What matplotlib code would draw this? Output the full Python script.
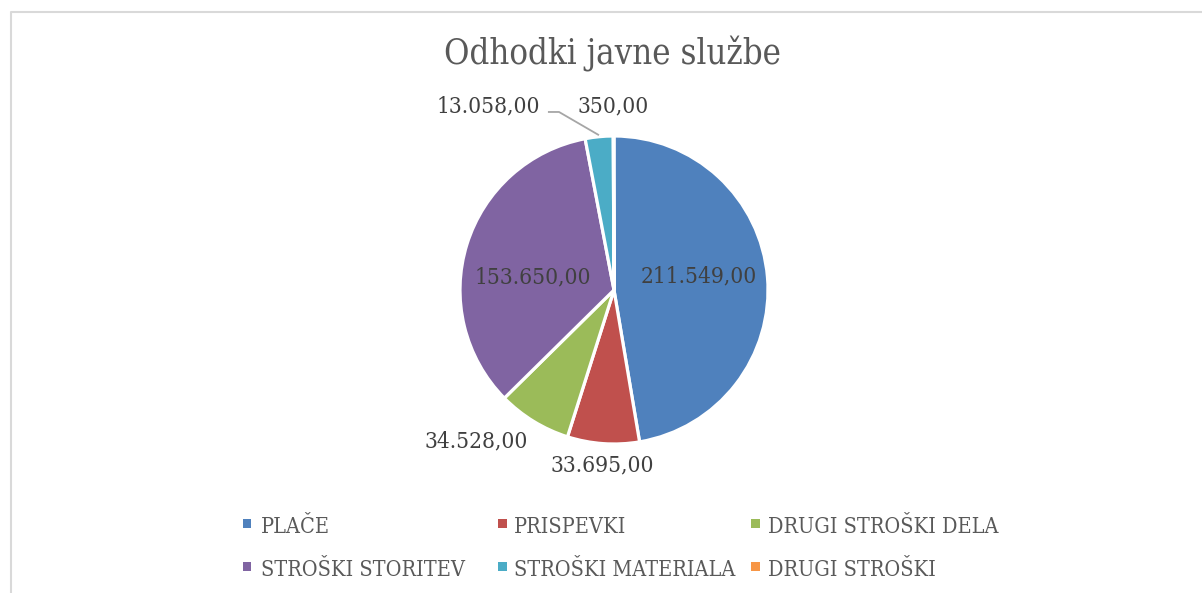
import numpy as np
import matplotlib
matplotlib.use("Agg")
import matplotlib.pyplot as plt
from matplotlib.patches import Rectangle
from matplotlib.lines import Line2D
from matplotlib import font_manager as fm

# ---- data ----
categories = ["PLAČE", "PRISPEVKI", "DRUGI STROŠKI DELA", "STROŠKI STORITEV",
              "STROŠKI MATERIALA", "DRUGI STROŠKI"]
values = [211549, 33695, 34528, 153650, 13058, 350]
value_labels = ["211.549,00", "33.695,00", "34.528,00", "153.650,00", "13.058,00", "350,00"]
colors = ["#4F81BD", "#C0504D", "#9BBB59", "#8064A2", "#4BACC6", "#F79646"]
title = "Odhodki javne službe"

W, H = 1202, 593
fig = plt.figure(figsize=(W / 100, H / 100), dpi=100)
fig.patch.set_facecolor("white")

# check whether a condensed DejaVu Serif is installed
cond = any(("DejaVu Serif" == f.name and f.stretch == "condensed") for f in fm.fontManager.ttflist)
stretch = "condensed" if cond else "normal"
k = 1.1 if cond else 1.0

def fx(px):
    return px / W

def fy(py):
    return 1 - py / H

fig.add_artist(Line2D([fx(11), fx(11), 1.0], [0.0, fy(11.5), fy(11.5)],
                      transform=fig.transFigure, color="#D9D9D9", lw=1.5))

cx, cy, R = 614, 290, 154
ax = fig.add_axes([fx(cx - R), fy(cy + R), 2 * R / W, 2 * R / H])
wedges, _ = ax.pie(values, colors=colors, startangle=90, counterclock=False,
                   radius=1.0, wedgeprops=dict(edgecolor="white", linewidth=2.3))
ax.set_xlim(-1, 1)
ax.set_ylim(-1, 1)
ax.set_aspect("equal")
ax.axis("off")

serif = "DejaVu Serif"
lab_color = "#404040"
fs_lab = 14.8 * k
fs_leg = 14.1 * k
fs_title = 22.6 * k

total = float(sum(values))
cum = np.cumsum([0] + values[:-1])
mid = [np.deg2rad(90 - 360 * (c + v / 2) / total) for c, v in zip(cum, values)]

placement = [
    (0.55, "center", "center", 0.0, 0.04),
    (1.07, "center", "top", 0.0, 0.0),
    (1.07, "right", "top", 0.0, 0.0),
    (0.55, "center", "center", 0.0, -0.08),
    None,
    (1.195, "center", "center", 0.0, 0.0),
]
for i, (txt, ang) in enumerate(zip(value_labels, mid)):
    p = placement[i]
    if p is None:
        continue
    r, ha, va, dx, dy = p
    ax.text(r * np.cos(ang) + dx, r * np.sin(ang) + dy, txt, ha=ha, va=va,
            fontsize=fs_lab, family=serif, fontstretch=stretch,
            color=lab_color, clip_on=False)

i = 4
ang = mid[i]
ex, ey = 1.01 * np.cos(ang), 1.01 * np.sin(ang)
ax.plot([-0.429, -0.357, ex], [1.156, 1.156, ey], color="#A6A6A6", lw=1.3,
        clip_on=False, solid_capstyle="butt")
ax.text(-0.481, 1.195, value_labels[i], ha="right", va="center",
        fontsize=fs_lab, family=serif, fontstretch=stretch,
        color=lab_color, clip_on=False)

fig.text(fx(612.5), fy(64), title, ha="center", va="baseline",
         fontsize=fs_title, family=serif, fontstretch=stretch, color="#595959")

col_marker_x = [243, 498, 751]
col_text_x = [261, 514, 768]
row_base_y = [533, 576]
ms = 8.5
for n, (name, col) in enumerate(zip(categories, colors)):
    row, c = divmod(n, 3)
    by = row_base_y[row]
    fig.add_artist(Rectangle((fx(col_marker_x[c]), fy(by - 5.5)), ms / W, ms / H,
                             transform=fig.transFigure, facecolor=col,
                             edgecolor="none"))
    fig.text(fx(col_text_x[c]), fy(by), name, ha="left", va="baseline",
             fontsize=fs_leg, family=serif, fontstretch=stretch, color="#595959")

fig.savefig("out.png", dpi=100, facecolor="white")
